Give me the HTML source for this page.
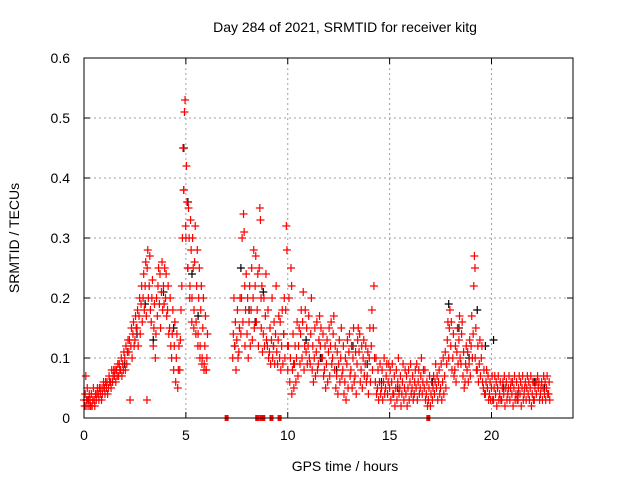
<!DOCTYPE html>
<html><head><meta charset="utf-8"><style>
html,body{margin:0;padding:0;background:#fff}
svg{display:block;font-family:"Liberation Sans",sans-serif}
</style></head><body>
<svg id="chart" width="640" height="480" viewBox="0 0 640 480">
<rect width="640" height="480" fill="#fff"/>
<text x="345" y="32" font-size="14" text-anchor="middle">Day 284 of 2021, SRMTID for receiver kitg</text>
<text transform="translate(19,238) rotate(-90)" font-size="14" text-anchor="middle">SRMTID / TECUs</text>
<text x="345" y="471" font-size="14" text-anchor="middle">GPS time / hours</text>
<g id="grid"></g>
<g id="ticks"></g>
<g id="marks"></g>
<rect x="84" y="58" width="489" height="360" fill="none" stroke="#000" stroke-width="1"/>
</svg>
<script>
const xTicks=[0,5,10,15,20];
const yTicks=[0,0.1,0.2,0.3,0.4,0.5,0.6];
const yTickLabels=["0","0.1","0.2","0.3","0.4","0.5","0.6"];
// red series: time (hours) and values in hundredths of TECU
const redTimes=[0.0,0.1,0.2,0.3,0.4,0.5,0.6,0.7,0.8,0.9,1.0,1.1,1.2,1.3,1.4,1.5,1.6,1.7,1.8,1.9,2.0,2.1,2.2,2.3,2.4,2.5,2.6,2.7,2.8,2.9,3.0,3.1,3.2,3.3,3.4,3.5,3.6,3.7,3.8,3.9,4.0,4.1,4.2,4.3,4.4,4.5,4.6,4.7,4.8,4.9,5.0,5.1,5.2,5.3,5.4,5.5,5.6,5.7,5.8,5.9,6.0,
7.3,7.4,7.5,7.6,7.7,7.8,7.9,8.0,8.1,8.2,8.3,8.4,8.5,8.6,8.7,8.8,8.9,9.0,9.1,9.2,9.3,9.4,9.5,9.6,9.7,9.8,9.9,10.0,10.1,10.2,10.3,10.4,10.5,10.6,10.7,10.8,10.9,11.0,11.1,11.2,11.3,11.4,11.5,11.6,11.7,11.8,11.9,12.0,12.1,12.2,12.3,12.4,12.5,12.6,12.7,12.8,12.9,13.0,13.1,13.2,13.3,13.4,13.5,13.6,13.7,13.8,13.9,14.0,14.1,14.2,14.3,14.4,14.5,14.6,14.7,14.8,14.9,15.0,15.1,15.2,15.3,15.4,15.5,15.6,15.7,15.8,15.9,16.0,16.1,16.2,16.3,16.4,16.5,16.6,16.7,16.8,16.9,17.0,17.1,17.2,17.3,17.4,17.5,17.6,17.7,17.8,17.9,18.0,18.1,18.2,18.3,18.4,18.5,18.6,18.7,18.8,18.9,19.0,19.1,19.2,19.3,19.4,19.5,19.6,19.7,19.8,19.9,20.0,20.1,20.2,20.3,20.4,20.5,20.6,20.7,20.8,20.9,21.0,21.1,21.2,21.3,21.4,21.5,21.6,21.7,21.8,21.9,22.0,22.1,22.2,22.3,22.4,22.5,22.6,22.7,22.8];
const redValues=[[3,2,4,7],[2,3,5],[2,3,4,2],[3,2,4],[2,3,5],[3,2,4],[3,4,5],[4,3,5],[4,5,3],[4,5,6],[5,4,6],[5,6,4],[5,7,6],[6,5,8],[6,7,8],[7,8,6],[8,7,9],[7,9,8],[8,10,7],[9,8,11],[10,8,12],[9,11,13],[11,13,3],[12,15,10],[14,16,12],[13,17,15],[15,18,12],[17,20,14],[19,22,16],[20,24,18],[22,26,17,3],[25,28,20],[22,27,18],[16,20,23],[12,15,19],[10,14,20],[17,22,25],[19,24,15],[21,26,18],[22,19,25],[20,24,17],[18,22,14],[15,20,12],[10,14,18],[8,12,16],[6,10,14],[5,8,12],[8,13,18],[22,30,45,38],[38,51,53,32],[30,42,36,25],[25,35,30,20],[22,33,28,16],[20,30,25,15],[18,26,32,14],[16,22,28,12],[14,20,25,10],[12,18,22,9],[10,15,20,8],[9,12,17,8],[8,10,14],
[10,14,20],[12,16,8],[13,18,10],[11,15,20],[14,20,30],[16,34,31,22],[12,18,24],[14,20,10],[16,22,12],[18,25,13],[20,28,15],[22,27,16],[18,24,12],[25,35,33,20],[15,22,11],[14,20,12],[17,24,13],[12,18,10],[11,15,9],[13,20,10],[12,16,9],[14,22,11],[9,13,17],[10,16,8],[12,18,9],[14,20,10],[18,32,28,12],[8,12,20],[6,10,25,22],[4,8,14],[5,9,12],[6,10,16],[7,12,15],[9,14,18],[10,16,21],[8,12,18],[11,15,9],[12,17,10],[9,14,20],[8,12,6],[10,15,7],[11,16,8],[9,13,17],[12,15,10],[10,14,7],[8,12,5],[9,13,6],[11,15,7],[12,16,9],[10,14,17],[8,12,5],[7,11,4],[9,13,6],[10,15,7],[8,12,4],[6,10,3],[9,13,5],[11,14,7],[8,12,5],[10,15,6],[7,11,4],[9,13,15],[11,14,6],[8,12,5],[10,13,7],[9,12,6],[7,11,4],[10,15,6],[12,18,8],[15,22,10],[6,10,4],[5,8,3],[6,9,4],[5,8,3],[6,10,4],[5,7,9],[4,6,9],[5,8,3],[6,9,4],[4,7,2],[5,8,3],[6,10,4],[5,7,2],[4,6,9],[3,5,8],[4,7,2],[5,8,3],[6,9,4],[5,7,3],[4,6,8],[5,9,3],[6,8,4],[5,7,10],[4,6,8],[5,8,3],[4,6,2],[3,5,7],[2,4,6],[3,5,7],[4,6,9],[5,7,3],[6,8,4],[5,9,3],[6,10,4],[7,11,5],[9,13,16],[10,15,18],[12,16,8],[10,14,7],[8,12,6],[11,15,9],[13,17,10],[9,14,16],[7,11,5],[6,9,12],[8,11,6],[9,13,7],[12,17,10],[14,22,27,25],[10,15,8],[8,12,6],[9,13,7],[10,12,6],[5,8,4],[4,6,8],[5,7,3],[4,6,3],[5,7,3],[3,5,7],[4,6,2],[5,7,3],[4,6,3],[3,5,6],[4,7,2],[5,6,3],[4,5,7],[3,5,6],[4,6,2],[5,7,3],[4,6,3],[3,5,7],[4,6,2],[5,7,3],[4,5,6],[3,5,7],[4,6,3],[5,7,2],[4,6,3],[3,5,6],[4,6,7],[5,6,3],[4,5,6],[3,5,7],[4,6,3],[5,7,4],[4,6,3],[3,5,6],[4,6,7],[5,6,3],[4,5,6],[3,5,7],[4,6,3],[5,7,4],[4,6,5],[3,5,6]];
// black series
const blackTimes=[0.2,1.4,2.0,2.6,3.0,3.4,3.9,4.4,4.9,5.1,5.3,5.6,7.4,7.7,8.1,8.4,8.8,9.3,9.8,10.3,10.9,11.6,12.4,13.2,13.9,14.6,15.4,16.2,17.1,17.9,18.4,18.9,19.3,19.7,20.1,20.6,21.3,22.1,22.6];
const blackValues=[3,6,9,14,19,13,21,15,45,36,24,17,12,25,18,16,21,12,14,9,13,10,8,12,9,6,5,4,6,19,15,10,18,12,13,5,4,6,5];
const zeroTimes=[7.0,8.5,8.7,8.8,9.2,9.6,16.9];

const X0=84,X1=573,Y0=418,Y1=58,XMAX=24,YMAX=0.6;
function xs(t){return X0+(t/XMAX)*(X1-X0);}
function ys(v){return Y0-(v/YMAX)*(Y0-Y1);}
const NS="http://www.w3.org/2000/svg";
const grid=document.getElementById('grid'),ticks=document.getElementById('ticks'),marks=document.getElementById('marks');
function mk(tag,attrs,parent){const e=document.createElementNS(NS,tag);for(const k in attrs)e.setAttribute(k,attrs[k]);parent.appendChild(e);return e;}
xTicks.forEach(t=>{
  const x=xs(t);
  if(t>0){const g=mk('line',{x1:x,x2:x,y1:Y1,y2:Y0,stroke:'#a0a0a0','stroke-dasharray':'2,3'},grid);
  
  }
  mk('line',{x1:x,x2:x,y1:Y0,y2:Y0-6,stroke:'#000'},ticks);
  mk('line',{x1:x,x2:x,y1:Y1,y2:Y1+6,stroke:'#000'},ticks);
  const l=mk('text',{x:x,y:Y0+22,'font-size':14,'text-anchor':'middle'},ticks);
  l.textContent=String(t);
  
  
});
yTicks.forEach((v,i)=>{
  const y=ys(v);
  if(v>0&&v<YMAX){const g=mk('line',{x1:X0,x2:X1,y1:y,y2:y,stroke:'#a0a0a0','stroke-dasharray':'2,3'},grid);
  
  }
  mk('line',{x1:X0,x2:X0+6,y1:y,y2:y,stroke:'#000'},ticks);
  mk('line',{x1:X1,x2:X1-6,y1:y,y2:y,stroke:'#000'},ticks);
  const l=mk('text',{x:X0-14,y:y+5,'font-size':14,'text-anchor':'end'},ticks);
  l.textContent=yTickLabels[i];
  
  
});
function plus(t,v,color,name){
  const x=xs(t),y=ys(v);
  const p=mk('path',{d:`M${x-4},${y}H${x+4}M${x},${y-4}V${y+4}`,stroke:color,'stroke-width':1.2,fill:'none'},marks);
  
  
}
blackTimes.forEach((t,i)=>plus(t,blackValues[i]/100,'#000','black-point'));
redTimes.forEach((t,i)=>{
  const vals=redValues[i];
  if(!vals) return;
  vals.forEach((v,j)=>plus(t+j*0.03,v/100,'#f00','red-point'));
});
zeroTimes.forEach(t=>{
  const r=mk('rect',{x:xs(t)-2,y:Y0-3,width:4,height:6,fill:'#f00'},marks);
  
  
});
</script>
</body></html>
